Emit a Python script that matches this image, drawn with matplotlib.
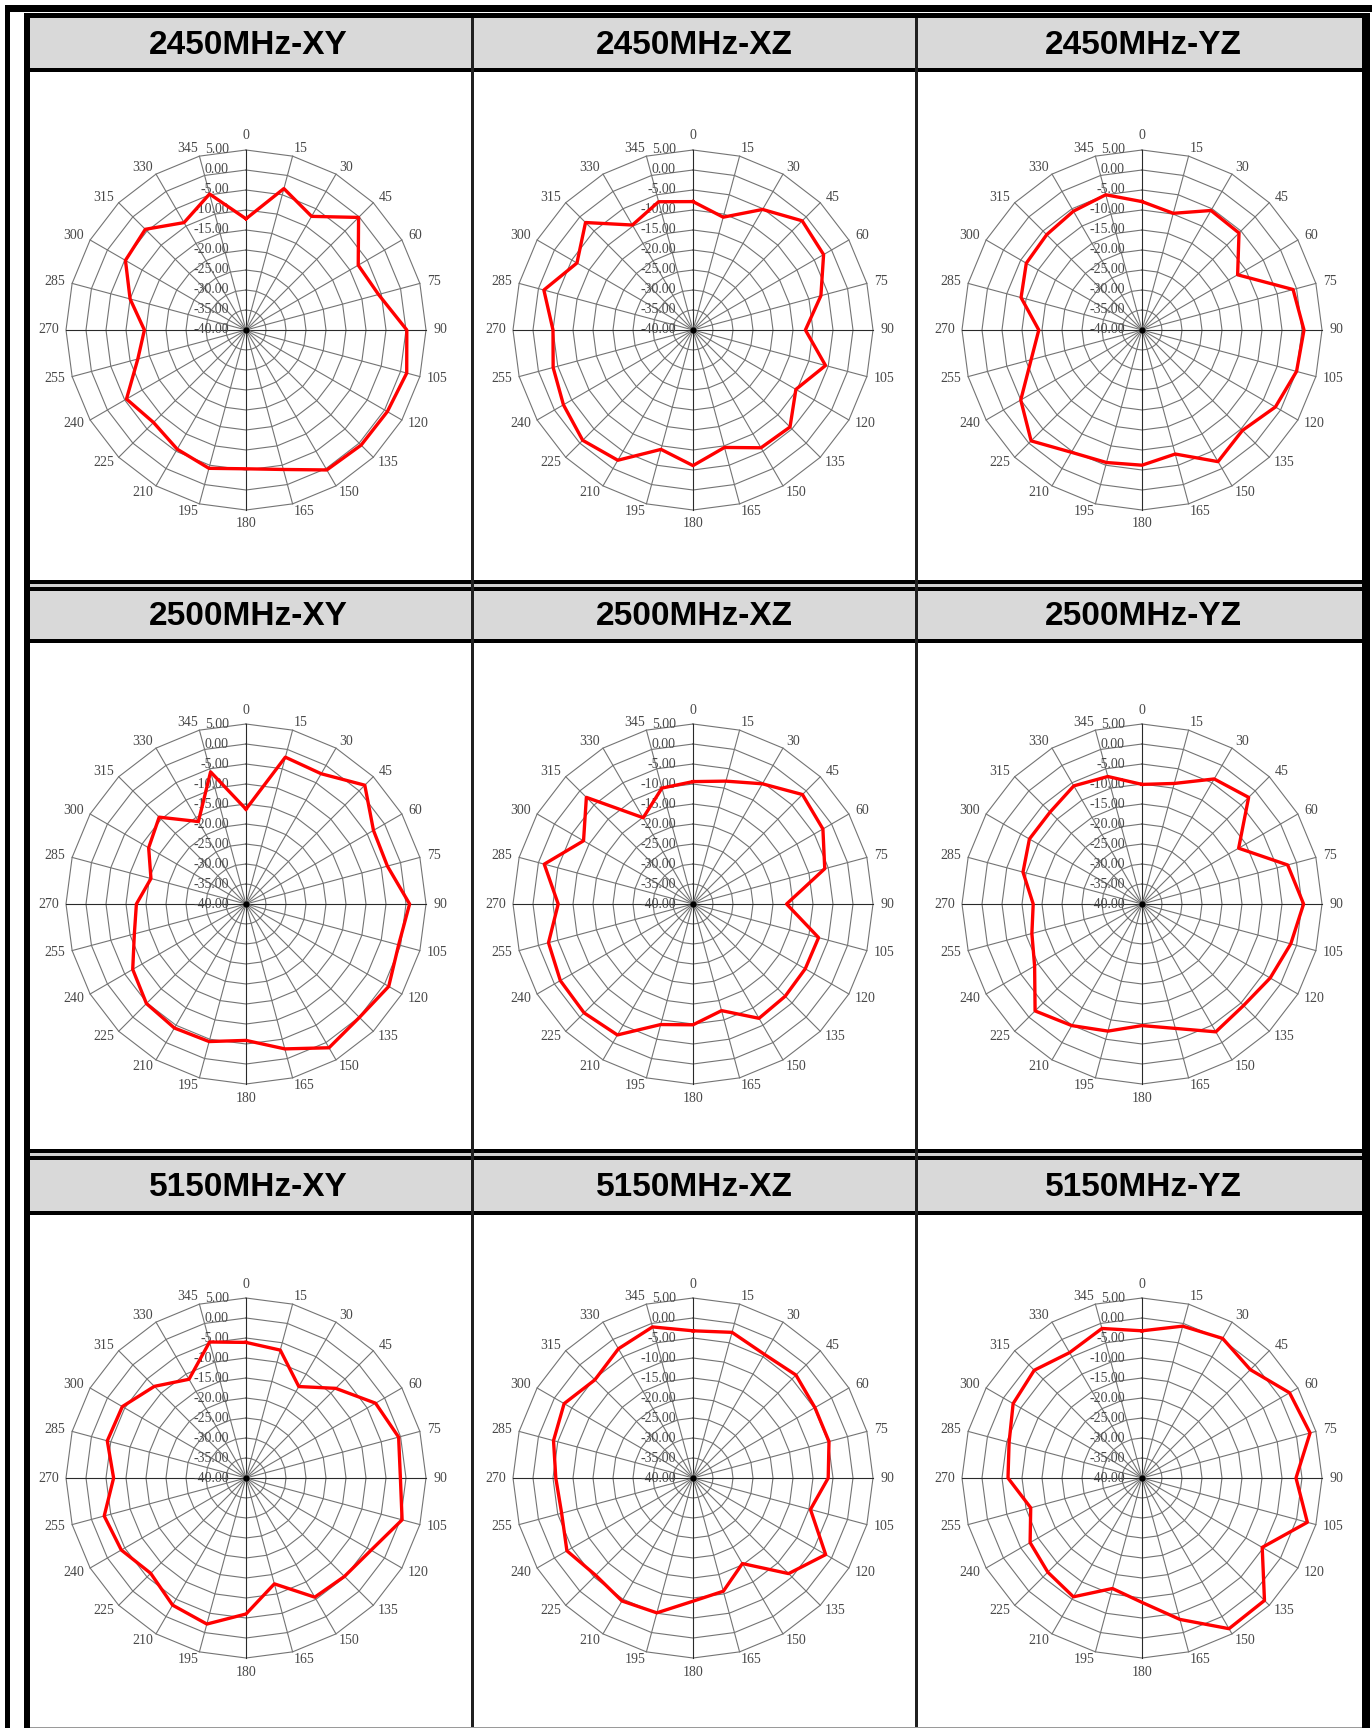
import matplotlib
matplotlib.use('Agg')
import matplotlib.pyplot as plt
from matplotlib.patches import Rectangle
import numpy as np

# canvas in pixels
W, H = 1372, 1728

# radar categories (degrees) and value rings (dB)
angles = list(range(0, 360, 15))
rings = [5, 0, -5, -10, -15, -20, -25, -30, -35, -40]

titles = ['2450MHz-XY', '2450MHz-XZ', '2450MHz-YZ',
          '2500MHz-XY', '2500MHz-XZ', '2500MHz-YZ',
          '5150MHz-XY', '5150MHz-XZ', '5150MHz-YZ']

# gain values, one per 15 degrees starting at 0
xy_2450 = [-12.2, -3.4, -7.2, -0.2, -7.6, -5.7, 0.2, 1.6, 0.8, 0.7, 0.4, -3.9,
           -5.3, -4.2, -5.6, -7.3, -5.5, -12.0, -14.6, -10.0, -5.2, -4.4, -9.0, -4.8]
xz_2450 = [-7.9, -10.8, -5.2, -1.4, -2.3, -6.9, -11.9, -5.7, -10.3, -5.7, -6.0, -9.6,
           -6.1, -9.1, -2.4, -1.0, -2.6, -3.8, -5.0, -1.4, -6.5, -2.0, -9.7, -6.8]
yz_2450 = [-7.9, -9.8, -5.5, -5.7, -12.4, -0.9, 0.5, 0.0, -1.5, -4.5, -2.0, -7.9,
           -6.2, -5.7, -4.7, -0.8, -5.0, -11.3, -14.2, -8.7, -6.6, -6.3, -5.7, -5.0]
xy_2500 = [-16.3, -2.0, -2.4, 2.0, -3.2, -3.4, 0.9, -0.5, 1.2, 0.1, 1.5, -2.5,
           -5.9, -4.4, -4.2, -4.8, -7.3, -11.1, -12.6, -15.4, -11.9, -9.3, -16.2, -5.8]
xz_2500 = [-9.4, -8.2, -5.3, -1.3, -2.5, -5.9, -16.6, -7.5, -7.6, -7.4, -7.0, -12.4,
           -9.8, -8.8, -2.2, -1.5, -1.7, -2.6, -6.3, -1.5, -8.4, -2.3, -15.1, -10.0]
yz_2500 = [-10.1, -8.8, -3.9, -2.3, -12.1, -2.3, 0.4, -1.5, -3.0, -4.1, -3.1, -7.8,
           -9.6, -7.1, -4.9, -2.2, -9.0, -11.5, -12.8, -9.2, -7.5, -7.5, -5.9, -7.0]
xy_5150 = [-6.1, -6.9, -13.6, -8.3, -2.6, -0.5, -1.4, 0.4, -3.9, -5.2, -5.6, -12.6,
           -6.0, -2.2, -3.3, -6.3, -4.0, -3.3, -6.9, -4.1, -4.3, -7.6, -11.5, -4.8]
xz_5150 = [-3.2, -2.3, -4.3, -3.6, -4.8, -4.8, -6.2, -9.6, -1.7, -6.2, -15.3, -10.7,
           -9.2, -5.1, -4.5, -5.6, -3.6, -6.0, -5.7, -3.9, -2.8, -5.3, -2.7, -0.9]
yz_5150 = [-3.2, -0.7, 0.3, -1.7, 2.6, 3.5, -1.5, 2.8, -5.3, 3.3, 3.5, -3.4,
           -8.9, -11.4, -5.7, -6.7, -7.7, -11.2, -6.5, -5.6, -2.8, -1.9, -3.8, -1.3]

series = [xy_2450, xz_2450, yz_2450, xy_2500, xz_2500, yz_2500, xy_5150, xz_5150, yz_5150]

# table layout (pixels)
col_x = [24, 472, 916, 1370]
chart_cx = [246, 693, 1142]
header_y = [(18, 68), (590, 639), (1160, 1211)]
chart_cy = [330, 904, 1478]

fig = plt.figure(figsize=(W / 100, H / 100), dpi=100)
bg = fig.add_axes([0, 0, 1, 1])
bg.set_xlim(0, W)
bg.set_ylim(H, 0)
bg.axis('off')


def box(x0, y0, x1, y1, color='black'):
    bg.add_patch(Rectangle((x0, y0), x1 - x0, y1 - y0, facecolor=color, edgecolor='none'))


# header bands
for k, (y0, y1) in enumerate(header_y):
    box(30, y0, 1362, y1, '#d9d9d9')
    box(24, y1, 1370, y1 + 4)
    for c in range(3):
        bg.text((col_x[c] + col_x[c + 1]) / 2, (y0 + y1) / 2 + 2, titles[3 * k + c],
                ha='center', va='center', fontsize=24, fontweight='bold',
                family='Liberation Sans', color='black')

# double lines between row blocks
for y in [580, 1149]:
    box(24, y, 1370, y + 4)
    box(24, y + 7, 1370, y + 11)
    box(24, y + 4, 1370, y + 7, '#d0d0d0')

# column separators
for x in col_x[1:3]:
    box(x - 1, 18, x + 1.5, H, '#202020')

# table frame
box(24, 13, 1370, 18)
box(24, 13, 30, H)
box(1362, 13, 1370, H)
box(30, H - 1.5, 1362, H, '#9a9a9a')
# outer page frame
box(5, 5, W, 12)
box(5, 5, 10, H)


def radar(cx, cy, values):
    half = 232
    ax = fig.add_axes([(cx - half) / W, 1 - (cy + half) / H, 2 * half / W, 2 * half / H])
    ax.set_xlim(-58, 58)
    ax.set_ylim(-58, 58)
    ax.axis('off')

    th = np.radians(angles)
    th_c = np.append(th, th[0])
    rmax = rings[0] + 40

    # polygon rings
    for v in rings[:-1]:
        r = v + 40
        ax.plot(r * np.sin(th_c), r * np.cos(th_c), color='#747474', lw=0.8, zorder=1)
    # spokes
    for a in angles:
        t = np.radians(a)
        col = '#2a2a2a' if a % 90 == 0 else '#747474'
        ax.plot([0, rmax * np.sin(t)], [0, rmax * np.cos(t)], color=col, lw=0.8, zorder=1)
    ax.plot([0], [0], marker='o', ms=3.5, color='black', zorder=1)

    # value axis labels
    for v in rings:
        ax.text(-4.3, v + 40, f'{v:.2f}', ha='right', va='center', fontsize=10,
                family='Liberation Serif', color='#484848', zorder=2)

    # category labels
    for a in angles:
        t = np.radians(a)
        s, c = np.sin(t), np.cos(t)
        lab = str(a)
        if a % 180 == 0:
            x, y = (rmax + 3.5) * s, (rmax + 3.5) * c
        else:
            w = len(lab) * 1.6
            x = (rmax + 2) * s + np.sign(s) * w / 2
            y = (rmax + 2) * c
        ax.text(x, y, lab, ha='center', va='center', fontsize=10,
                family='Liberation Serif', color='#484848', zorder=2)

    # data trace
    r = np.array(values) + 40
    r = np.append(r, r[0])
    ax.plot(r * np.sin(th_c), r * np.cos(th_c), color='#ff0000', lw=2.4,
            solid_joinstyle='round', zorder=3)


for k in range(3):
    for c in range(3):
        radar(chart_cx[c], chart_cy[k], series[3 * k + c])

fig.savefig('out.png', dpi=100)
